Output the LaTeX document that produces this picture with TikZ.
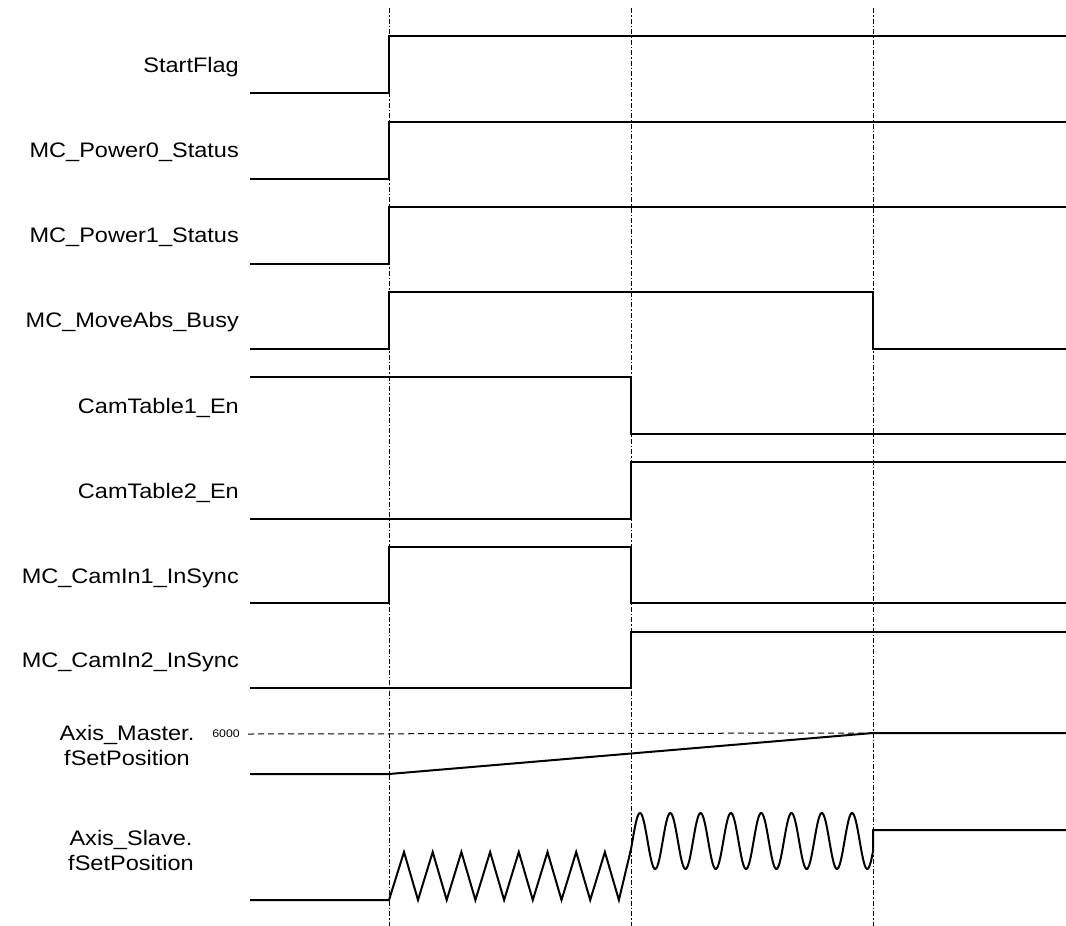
\documentclass[tikz,border=0pt]{standalone}
\usepackage{fontspec}
\setmainfont{Liberation Sans}[FakeStretch=1.12]
\begin{document}
\begin{tikzpicture}[x=1pt,y=-1pt,line join=miter,
  every node/.style={font=\fontsize{21}{25}\selectfont,inner sep=0pt},
  sig/.style={line width=2pt},
  guide/.style={line width=1pt,dash pattern=on 5pt off 2pt on 1.5pt off 2pt},
  signame/.style={anchor=east}]
\useasboundingbox (0,0) rectangle (1066,926);
% time marks
\draw[guide] (389,8) -- (389,926);
\draw[guide] (631,8) -- (631,926);
\draw[guide] (873,8) -- (873,926);
% labels
\node[signame] (startflag) at (239,67) {StartFlag};
\node[signame] (power0) at (239,152) {MC\_Power0\_Status};
\node[signame] (power1) at (239,237) {MC\_Power1\_Status};
\node[signame] (moveabs) at (239,322) {MC\_MoveAbs\_Busy};
\node[signame] (camtable1) at (239,408) {CamTable1\_En};
\node[signame] (camtable2) at (239,493) {CamTable2\_En};
\node[signame] (camin1) at (239,578) {MC\_CamIn1\_InSync};
\node[signame] (camin2) at (239,662) {MC\_CamIn2\_InSync};
\node[align=center] (master) at (127,745) {Axis\_Master.\\fSetPosition};
\node[align=center] (slave) at (131,850) {Axis\_Slave.\\fSetPosition};
\node[anchor=east,font=\fontsize{11}{12}\selectfont] (sixk) at (240,734) {6000};
% signals
\draw[sig] (250,93) -- (389,93) -- (389,36) -- (1066,36);
\draw[sig] (250,179) -- (389,179) -- (389,122) -- (1066,122);
\draw[sig] (250,264) -- (389,264) -- (389,207) -- (1066,207);
\draw[sig] (250,349) -- (389,349) -- (389,292) -- (873,292) -- (873,349) -- (1066,349);
\draw[sig] (250,377) -- (631,377) -- (631,434) -- (1066,434);
\draw[sig] (250,519) -- (631,519) -- (631,462) -- (1066,462);
\draw[sig] (250,603) -- (389,603) -- (389,547) -- (631,547) -- (631,603) -- (1066,603);
\draw[sig] (250,688) -- (631,688) -- (631,632) -- (1066,632);
% master position
\draw[line width=1pt,dash pattern=on 6pt off 4pt] (sixk.east) ++(8,0) -- (873,733);
\draw[sig] (250,774) -- (389,774) -- (873,733) -- (1066,733);
% slave position
\draw[sig] (250,900) -- (389,900)
  \foreach \k in {0,...,7} { -- ({404+28.7*\k},852) -- ({418+28.7*\k},900) }
  -- plot[domain=631:873,samples=240] (\x,{841-28*cos(11.881*(\x-640))})
  -- (873,830) -- (1066,830);
\end{tikzpicture}
\end{document}
